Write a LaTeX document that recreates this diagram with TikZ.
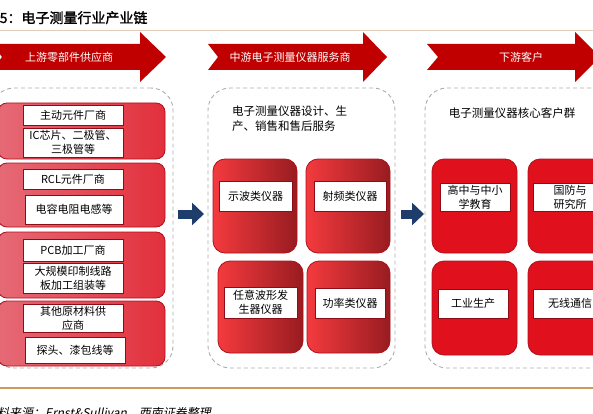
\documentclass[tikz,border=0pt]{standalone}
\usepackage{fontspec}
\setmainfont{Noto Sans CJK SC}
\newfontfamily\titlefont[FakeBold=1.5]{Noto Sans CJK SC}
\newfontfamily\notefont[FakeSlant=0.2]{Noto Sans CJK SC}
\usetikzlibrary{arrows.meta,positioning}
\definecolor{banner}{HTML}{C00000}
\definecolor{boxred}{HTML}{E0101C}
\definecolor{edgered}{HTML}{B0101C}
\definecolor{lightred}{HTML}{E56A76}
\definecolor{midred}{HTML}{E2303C}
\definecolor{hotred}{HTML}{F43A3E}
\definecolor{darkred}{HTML}{981C20}
\definecolor{navy}{HTML}{1F3D6B}
\definecolor{rulebeige}{HTML}{E4CDB6}
\definecolor{ruletan}{HTML}{C99B5E}
\newcommand{\fsz}[2]{\fontsize{#1}{#2}\selectfont}
\tikzset{
  grp/.style={rectangle, rounded corners=22pt, draw=gray!65, line width=0.9pt,
              dash pattern=on 4pt off 3pt},
  tier/.style={rectangle, rounded corners=9pt, draw=edgered, line width=0.8pt,
               left color=lightred, right color=midred},
  tile/.style={rectangle, rounded corners=12pt, draw=edgered, line width=0.8pt,
               left color=hotred, right color=darkred},
  cust/.style={rectangle, rounded corners=12pt, draw=edgered, line width=0.8pt, fill=boxred},
  tag/.style={rectangle, draw=edgered!80!black, line width=0.7pt, fill=white,
              align=center, inner sep=0pt, font=\fsz{11}{14}},
  bandtxt/.style={text=white, font=\fsz{11}{13}},
  push/.style={-{Triangle[length=12pt,width=22pt]}, line width=9pt, draw=navy},
}

\begin{document}
\begin{tikzpicture}[x=1pt, y=-1pt]
    \useasboundingbox (0,0) rectangle (593,414);
    % title and rules
    \node[anchor=base west, inner sep=0pt, font=\titlefont\fsz{14}{16}] (title) at (-14.5,23)
      {图5：电子测量行业产业链};
    \draw[rulebeige, line width=1pt] (-5,31) -- (600,31);
    \draw[ruletan, line width=1.2pt] (-5,388) -- (600,388);
    \node[anchor=base west, inner sep=0pt, font=\notefont\fsz{12}{14}] (src) at (-15,417)
      {资料来源：Ernst\&Sullivan，西南证券整理};
    % banners
    \fill[banner] (-8,44) -- (140,44) -- (140,32) -- (166,57) -- (140,82) -- (140,70)
      -- (-8,70) -- (2,57) -- cycle;
    \fill[banner] (208,44) -- (363,44) -- (363,32) -- (387,57) -- (363,82) -- (363,70)
      -- (208,70) -- (218,57) -- cycle;
    \fill[banner] (427,44) -- (575,44) -- (575,32) -- (600,57) -- (575,82) -- (575,70)
      -- (427,70) -- (438,57) -- cycle;
    \node[bandtxt] (up) at (69,57) {上游零部件供应商};
    \node[bandtxt] (mid) at (290,57) {中游电子测量仪器服务商};
    \node[bandtxt] (down) at (521,57) {下游客户};
    % dashed groups
    \node[grp, minimum width=181pt, minimum height=280pt] (upg) at (82.5,228) {};
    \node[grp, minimum width=187pt, minimum height=280pt] (midg) at (301.5,228) {};
    \node[grp, minimum width=195pt, minimum height=280pt] (downg) at (522.5,228) {};
    % upstream
    \node[tier, minimum width=167pt, minimum height=56pt] (t1) at (81.5,131) {};
    \node[tier, minimum width=167pt, minimum height=64pt] (t2) at (81.5,195) {};
    \node[tier, minimum width=167pt, minimum height=66pt] (t3) at (81.5,265) {};
    \node[tier, minimum width=167pt, minimum height=65pt] (t4) at (81.5,333.5) {};
    \node[tag, minimum width=100pt, minimum height=20pt] (a1) at (73,115) {主动元件厂商};
    \node[tag, minimum width=100pt, minimum height=29pt] (a2) at (73,142.5) {IC芯片、二极管、\\三极管等};
    \node[tag, minimum width=100pt, minimum height=20pt] (b1) at (73,179) {RCL元件厂商};
    \node[tag, minimum width=98pt, minimum height=29pt] (b2) at (74,209.5) {电容电阻电感等};
    \node[tag, minimum width=100pt, minimum height=22pt] (c1) at (73,250) {PCB加工厂商};
    \node[tag, minimum width=100pt, minimum height=30pt] (c2) at (73,278) {大规模印制线路\\板加工组装等};
    \node[tag, minimum width=100pt, minimum height=28pt] (d1) at (73,318) {其他原材料供\\应商};
    \node[tag, minimum width=100pt, minimum height=26pt] (d2) at (75,350) {探头、漆包线等};
    % midstream
    \node[anchor=north west, align=left, inner sep=0pt, font=\fsz{11.5}{15}]
      (midtxt) at (232,106) {电子测量仪器设计、生\\产、销售和售后服务};
    \node[tile, minimum width=84pt, minimum height=94pt] (m1) at (255,206) {};
    \node[tile, minimum width=84pt, minimum height=94pt] (m2) at (348,206) {};
    \node[tile, minimum width=85pt, minimum height=92pt] (m3) at (260.5,307) {};
    \node[tile, minimum width=83pt, minimum height=92pt] (m4) at (348.5,307) {};
    \node[tag, minimum width=73pt, minimum height=30pt] (m1t) at (255.5,196) {示波类仪器};
    \node[tag, minimum width=72pt, minimum height=30pt] (m2t) at (350,196) {射频类仪器};
    \node[tag, minimum width=73pt, minimum height=31pt] (m3t) at (260.5,302.5) {任意波形发\\生器仪器};
    \node[tag, minimum width=70pt, minimum height=30pt] (m4t) at (350,303) {功率类仪器};
    % downstream
    \node[font=\fsz{11.5}{14}] (downtxt) at (512,113) {电子测量仪器核心客户群};
    \node[cust, minimum width=85pt, minimum height=94pt] (k1) at (474.5,206) {};
    \node[cust, minimum width=85pt, minimum height=94pt] (k2) at (570.5,206) {};
    \node[cust, minimum width=85pt, minimum height=94pt] (k3) at (474.5,308) {};
    \node[cust, minimum width=85pt, minimum height=94pt] (k4) at (570.5,308) {};
    \node[tag, minimum width=70pt, minimum height=28pt] (k1t) at (475,197) {高中与中小\\学教育};
    \node[tag, minimum width=74pt, minimum height=28pt] (k2t) at (570,197) {国防与\\研究所};
    \node[tag, minimum width=70pt, minimum height=29pt] (k3t) at (473,303.5) {工业生产};
    \node[tag, minimum width=74pt, minimum height=29pt] (k4t) at (570,303.5) {无线通信};
    % flow arrows
    \coordinate (p1) at (178,214);
    \coordinate (p2) at (204,214);
    \coordinate (q1) at (401,214);
    \coordinate (q2) at (424,214);
    \draw[push] (p1) -- (p2);
    \draw[push] (q1) -- (q2);
\end{tikzpicture}
\end{document}
